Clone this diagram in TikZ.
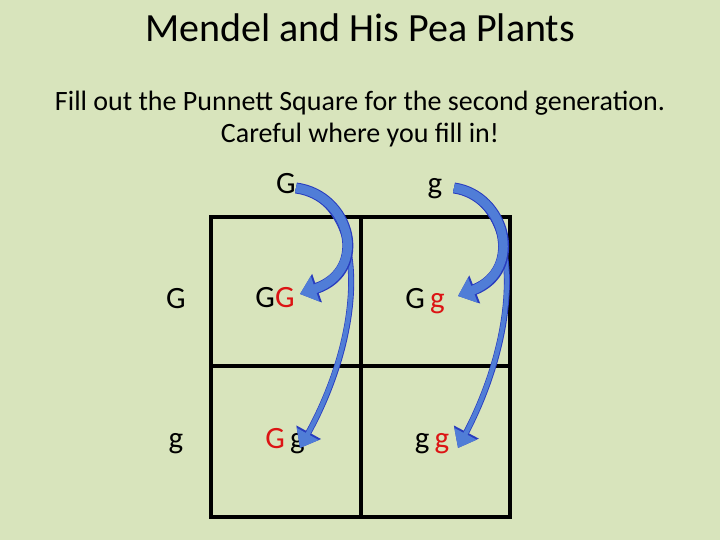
\documentclass[tikz,border=0pt]{standalone}
\usepackage{fontspec}
\setmainfont{Carlito}
\usetikzlibrary{arrows.meta}
\definecolor{bg}{RGB}{216,228,188}
\definecolor{arrb}{RGB}{80,125,215}
\definecolor{arrd}{RGB}{40,60,190}
\definecolor{redl}{RGB}{220,20,20}
\tikzset{
 lbl/.style={font=\fontsize{31}{33}\selectfont, inner sep=0pt, anchor=base},
 grid/.style={line width=3.5pt, black},
 bigarrow/.style={line width=9pt, arrb, -{Triangle[length=16pt,width=26pt]},
   preaction={draw=arrd, line width=11pt, -{Triangle[length=18pt,width=29pt]}}},
 thinarrow/.style={line width=4.5pt, arrb, -{Triangle[length=16pt,width=24pt]},
   preaction={draw=arrd, line width=6pt, -{Triangle[length=18pt,width=27pt]}}}
}
\begin{document}
\begin{tikzpicture}[x=1pt,y=-1pt]
\useasboundingbox[fill=bg] (0,0) rectangle (720,540);
\node[font=\fontsize{40}{42}\selectfont, anchor=base] (title) at (360,42) {Mendel and His Pea Plants};
\node[font=\fontsize{28}{32}\selectfont, align=center, anchor=north] (sub) at (360,88) {Fill out the Punnett Square for the second generation.\\Careful where you fill in!};
\draw[grid] (211,217) rectangle (510,517);
\draw[grid] (361,217) -- (361,517);
\draw[grid] (211,366) -- (510,366);
\node[lbl] (cG) at (286,194) {G};
\node[lbl] (cg) at (435,194) {g};
\node[lbl] (rG) at (176,308) {G};
\node[lbl] (rg) at (176,448) {g};
\node[lbl] (c11) at (275,307) {G\textcolor{redl}{G}};
\node[lbl] (c12) at (425,308) {G\,\textcolor{redl}{g}};
\node[lbl] (c21) at (285,448) {\textcolor{redl}{G}\,g};
\node[lbl] (c22) at (432,448) {g\,\textcolor{redl}{g}};
\coordinate (a1) at (296,188);
\coordinate (a2) at (454,188);
\draw[thinarrow] (a1) .. controls (370,205) and (365,330) .. (300,448);
\draw[bigarrow] (a1) .. controls (350,195) and (370,270) .. (300,294);
\draw[thinarrow] (a2) .. controls (525,205) and (520,330) .. (458,448);
\draw[bigarrow] (a2) .. controls (505,195) and (525,270) .. (458,296);
\end{tikzpicture}
\end{document}
